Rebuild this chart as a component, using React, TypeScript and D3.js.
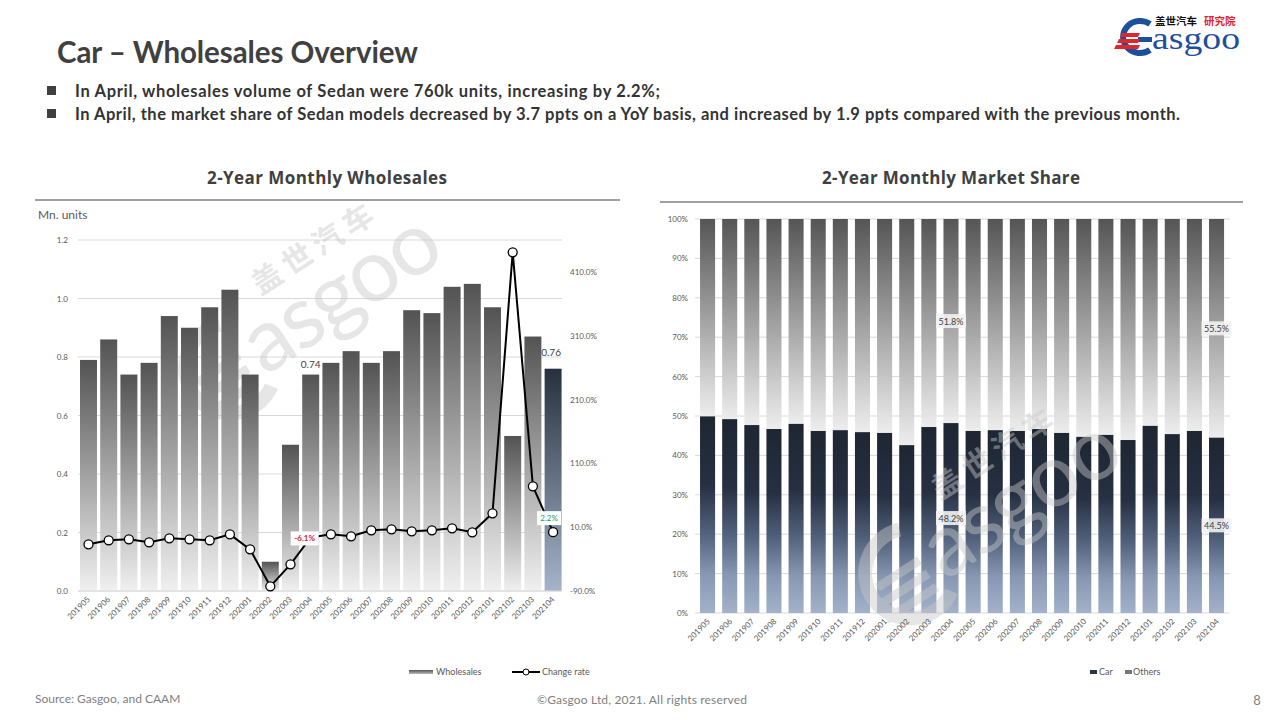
import React from 'react';
import * as d3 from 'd3';

const months = ['201905','201906','201907','201908','201909','201910','201911','201912','202001','202002','202003','202004','202005','202006','202007','202008','202009','202010','202011','202012','202101','202102','202103','202104'];
const wholesales = [0.79,0.86,0.74,0.78,0.94,0.90,0.97,1.03,0.74,0.10,0.50,0.74,0.78,0.82,0.78,0.82,0.96,0.95,1.04,1.05,0.97,0.53,0.87,0.76];
const changeRate = [-16.8,-10.6,-9.0,-13.7,-7.4,-9.0,-10.6,-1.2,-24.7,-82.7,-48.2,-6.1,-1.2,-4.3,5.1,6.7,3.5,5.1,8.2,2.0,31.7,440.7,74.0,2.2];
const carShare = [49.9,49.2,47.7,46.7,48.0,46.2,46.4,45.9,45.7,42.6,47.2,48.2,46.2,46.4,46.2,46.7,45.7,44.7,45.2,43.9,47.5,45.4,46.2,44.5];
const leftTicks = [0, 0.2, 0.4, 0.6, 0.8, 1.0, 1.2];
const rightTicks = [-90, 10, 110, 210, 310, 410];
const shareTicks = [0, 10, 20, 30, 40, 50, 60, 70, 80, 90, 100];
const bullets = [
  'In April, wholesales volume of Sedan were 760k units, increasing by 2.2%;',
  'In April, the market share of Sedan models decreased by 3.7 ppts on a YoY basis, and increased by 1.9 ppts compared with the previous month.',
];
const bulletWidths = [585, 1105];

const FONT = 'Lato, "Open Sans", sans-serif';
const GRAY = '#595959';

function Watermark({ x, y }: { x: number; y: number }) {
  return (
    <g transform={`translate(${x},${y}) rotate(-33)`} opacity={0.45} pointerEvents="none">
      <text x={-20} y={-42} fontSize={30} fontWeight={700} fill="#c8c8c8" fontFamily='"Noto Sans CJK SC", sans-serif' letterSpacing={6}>盖世汽车</text>
      <text x={-60} y={28} fontSize={88} fill="#c8c8c8" fontFamily={FONT} letterSpacing={-2}>asgoo</text>
      <path d="M-70,-40 A45,45 0 1,0 -60,40" fill="none" stroke="#c8c8c8" strokeWidth={14} />
      <rect x={-120} y={-8} width={50} height={9} fill="#c8c8c8" />
      <rect x={-125} y={8} width={55} height={9} fill="#c8c8c8" />
      <rect x={-130} y={24} width={60} height={9} fill="#c8c8c8" />
    </g>
  );
}

export default function App() {
  // left chart scales
  const xL = d3.scaleBand<string>().domain(months).range([78.4, 563.2]).paddingInner(0.16).paddingOuter(0.08);
  const yL = d3.scaleLinear().domain([0, 1.2]).range([591, 240]);
  const yR = d3.scaleLinear().domain([-90, 460]).range([591, 240]);
  const line = d3.line<number>().x((_, i) => (xL(months[i]) as number) + xL.bandwidth() / 2).y((d) => yR(d));

  // right chart scales
  const xS = d3.scaleBand<string>().domain(months).range([696.5, 1227.6]).paddingInner(0.32).paddingOuter(0.16);
  const yS = d3.scaleLinear().domain([0, 100]).range([613, 219]);

  const lastIdx = months.length - 1;
  const idx0474 = months.indexOf('202004');

  return (
    <svg width={1280} height={720} style={{ position: 'absolute', left: 0, top: 0, background: '#fff' }} fontFamily={FONT}>
      <defs>
        <linearGradient id="gGray" x1="0" y1="0" x2="0" y2="1">
          <stop offset="0" stopColor="#535353" />
          <stop offset="1" stopColor="#f0f0f0" />
        </linearGradient>
        <linearGradient id="gNavy" x1="0" y1="0" x2="0" y2="1">
          <stop offset="0" stopColor="#27303e" />
          <stop offset="1" stopColor="#a5b4ca" />
        </linearGradient>
        <linearGradient id="gOthers" x1="0" y1="0" x2="0" y2="1">
          <stop offset="0" stopColor="#555555" />
          <stop offset="1" stopColor="#ededed" />
        </linearGradient>
        <linearGradient id="gCar" x1="0" y1="0" x2="0" y2="1">
          <stop offset="0" stopColor="#1e2632" />
          <stop offset="0.35" stopColor="#263042" />
          <stop offset="0.6" stopColor="#53637e" />
          <stop offset="0.8" stopColor="#8797b2" />
          <stop offset="1" stopColor="#a3b2ca" />
        </linearGradient>
        <linearGradient id="gLegend" x1="0" y1="0" x2="0" y2="1">
          <stop offset="0" stopColor="#555" />
          <stop offset="1" stopColor="#bbb" />
        </linearGradient>
      </defs>

      {/* header */}
      <text x={57} y={63} fontSize={29.5} fontWeight={700} fill="#404040" textLength={361} lengthAdjust="spacing">Car – Wholesales Overview</text>
      {bullets.map((b, i) => (
        <g key={i}>
          <rect x={47} y={86 + i * 23} width={9} height={9} fill="#404040" />
          <text x={75} y={97 + i * 23} fontSize={16.5} fontWeight={700} fill="#333" textLength={bulletWidths[i]} lengthAdjust="spacing">{b}</text>
        </g>
      ))}

      {/* logo */}
      <g>
        <text x={1155} y={25} fontSize={10.5} fontWeight={700} fill="#111" fontFamily='"Noto Sans CJK SC", sans-serif'>盖世汽车</text>
        <text x={1204} y={25} fontSize={10.5} fontWeight={700} fill="#e0262b" fontFamily='"Noto Sans CJK SC", sans-serif'>研究院</text>
        <path d="M1150,24 A17,16 0 1,0 1150,50" fill="none" stroke="#1c4f9c" strokeWidth={6} />
        <rect x={1138} y={37} width={14} height={5} fill="#1c4f9c" />
        <polygon points="1122,33 1140,33 1138,37 1120,37" fill="#e0262b" />
        <polygon points="1119,39 1140,39 1138,43 1117,43" fill="#e0262b" />
        <polygon points="1116,45 1140,45 1138,49 1114,49" fill="#e0262b" />
        <text x={1152} y={49} fontSize={32} fill="#1c4f9c" fontFamily='"Liberation Serif", serif' textLength={88} lengthAdjust="spacingAndGlyphs">asgoo</text>
      </g>

      {/* ===== left chart ===== */}
      <text x={207} y={184} fontSize={17} fontWeight={700} fill="#404040" fontFamily='"Open Sans", Lato, sans-serif' textLength={240} lengthAdjust="spacing">2-Year Monthly  Wholesales</text>
      <line x1={35} x2={620} y1={200} y2={200} stroke="#808080" strokeWidth={1.5} />
      <text x={38} y={219} fontSize={12} fill={GRAY}>Mn. units</text>

      {leftTicks.map((t) => (
        <g key={t}>
          <line x1={78} x2={562} y1={yL(t)} y2={yL(t)} stroke="#d9d9d9" strokeWidth={1} />
          <text x={68} y={yL(t) + 3} fontSize={8} fill={GRAY} textAnchor="end">{t.toFixed(1)}</text>
        </g>
      ))}
      {rightTicks.map((t) => (
        <text key={t} x={570} y={yR(t) + 3} fontSize={8} fill={GRAY}>{t.toFixed(1)}%</text>
      ))}

      <Watermark x={300} y={320} />

      {wholesales.map((v, i) => (
        <rect key={i} x={xL(months[i])} y={yL(v)} width={xL.bandwidth()} height={yL(0) - yL(v)} fill={i === lastIdx ? 'url(#gNavy)' : 'url(#gGray)'} />
      ))}
      <line x1={78} x2={562} y1={591} y2={591} stroke="#d9d9d9" />

      <text x={(xL('202004') as number) + xL.bandwidth() / 2} y={yL(wholesales[idx0474]) - 7} fontSize={10} fill="#404040" textAnchor="middle">{wholesales[idx0474].toFixed(2)}</text>
      <text x={(xL('202104') as number) + xL.bandwidth() / 2 - 2} y={yL(wholesales[lastIdx]) - 13} fontSize={10} fill="#404040" textAnchor="middle">{wholesales[lastIdx].toFixed(2)}</text>

      <path d={line(changeRate) || ''} fill="none" stroke="#000" strokeWidth={2} />
      {changeRate.map((v, i) => (
        <circle key={i} cx={(xL(months[i]) as number) + xL.bandwidth() / 2} cy={yR(v)} r={4.5} fill="#fff" stroke="#000" strokeWidth={1.3} />
      ))}

      {(() => {
        const cx = (xL('202004') as number) + xL.bandwidth() / 2 - 6;
        const cy = yR(changeRate[idx0474]) + 1;
        return (
          <g>
            <rect x={cx - 14} y={cy - 7} width={28} height={14} fill="#fff" />
            <text x={cx} y={cy + 3} fontSize={8} fontWeight={700} fill="#e02040" textAnchor="middle">{changeRate[idx0474].toFixed(1)}%</text>
          </g>
        );
      })()}
      {(() => {
        const cx = (xL('202104') as number) + xL.bandwidth() / 2 - 4;
        const cy = yR(changeRate[lastIdx]) - 14;
        return (
          <g>
            <rect x={cx - 12} y={cy - 7} width={24} height={14} fill="#fff" />
            <text x={cx} y={cy + 3} fontSize={8} fill="#22a05a" textAnchor="middle">{changeRate[lastIdx].toFixed(1)}%</text>
          </g>
        );
      })()}

      {months.map((m) => (
        <text key={m} transform={`translate(${(xL(m) as number) + xL.bandwidth() / 2 + 2},${600}) rotate(-45)`} fontSize={8} fill={GRAY} textAnchor="end">{m}</text>
      ))}

      {/* left legend */}
      <rect x={409} y={670} width={24} height={4} fill="url(#gLegend)" />
      <text x={436} y={675} fontSize={9} fill={GRAY}>Wholesales</text>
      <line x1={512} x2={540} y1={672} y2={672} stroke="#000" strokeWidth={2} />
      <circle cx={526} cy={672} r={3} fill="#fff" stroke="#000" strokeWidth={1} />
      <text x={542} y={675} fontSize={9} fill={GRAY}>Change rate</text>

      {/* ===== right chart ===== */}
      <text x={822} y={184} fontSize={17} fontWeight={700} fill="#404040" fontFamily='"Open Sans", Lato, sans-serif' textLength={258} lengthAdjust="spacing">2-Year Monthly Market Share</text>
      <line x1={660} x2={1243} y1={202} y2={202} stroke="#808080" strokeWidth={1.5} />

      {shareTicks.map((t) => (
        <g key={t}>
          <line x1={695} x2={1230} y1={yS(t)} y2={yS(t)} stroke="#d9d9d9" />
          <text x={688} y={yS(t) + 3} fontSize={8} fill={GRAY} textAnchor="end">{t}%</text>
        </g>
      ))}

      {carShare.map((v, i) => (
        <g key={i}>
          <rect x={xS(months[i])} y={yS(100)} width={xS.bandwidth()} height={yS(v) - yS(100)} fill="url(#gOthers)" />
          <rect x={xS(months[i])} y={yS(v)} width={xS.bandwidth()} height={yS(0) - yS(v)} fill="url(#gCar)" />
        </g>
      ))}

      <Watermark x={980} y={525} />

      {[idx0474, lastIdx].map((i) => {
        const cx = (xS(months[i]) as number) + xS.bandwidth() / 2;
        const o = 100 - carShare[i];
        const yo = yS(carShare[i] + o / 2);
        const yc = yS(carShare[i] / 2);
        return (
          <g key={i}>
            <rect x={cx - 15} y={yo - 7} width={30} height={14} fill="#f2f2f2" opacity={0.9} />
            <text x={cx} y={yo + 3.5} fontSize={9} fill="#404040" textAnchor="middle">{o.toFixed(1)}%</text>
            <rect x={cx - 15} y={yc - 7} width={30} height={14} fill="#f2f2f2" opacity={0.9} />
            <text x={cx} y={yc + 3.5} fontSize={9} fill="#404040" textAnchor="middle">{carShare[i].toFixed(1)}%</text>
          </g>
        );
      })}

      {months.map((m) => (
        <text key={m} transform={`translate(${(xS(m) as number) + xS.bandwidth() / 2 + 3},${622}) rotate(-45)`} fontSize={8} fill={GRAY} textAnchor="end">{m}</text>
      ))}

      {/* right legend */}
      <rect x={1090} y={670} width={7} height={4} fill="#2a3444" />
      <text x={1099} y={675} fontSize={9} fill={GRAY}>Car</text>
      <rect x={1125} y={670} width={7} height={4} fill="#777" />
      <text x={1133} y={675} fontSize={9} fill={GRAY}>Others</text>

      {/* footer */}
      <text x={35} y={703} fontSize={12} fill="#808080">Source: Gasgoo, and CAAM</text>
      <text x={537} y={704} fontSize={12} fill="#808080" textLength={210} lengthAdjust="spacing">©Gasgoo Ltd,  2021. All rights reserved</text>
      <text x={1257} y={705} fontSize={13} fill="#808080" textAnchor="middle">8</text>
    </svg>
  );
}
